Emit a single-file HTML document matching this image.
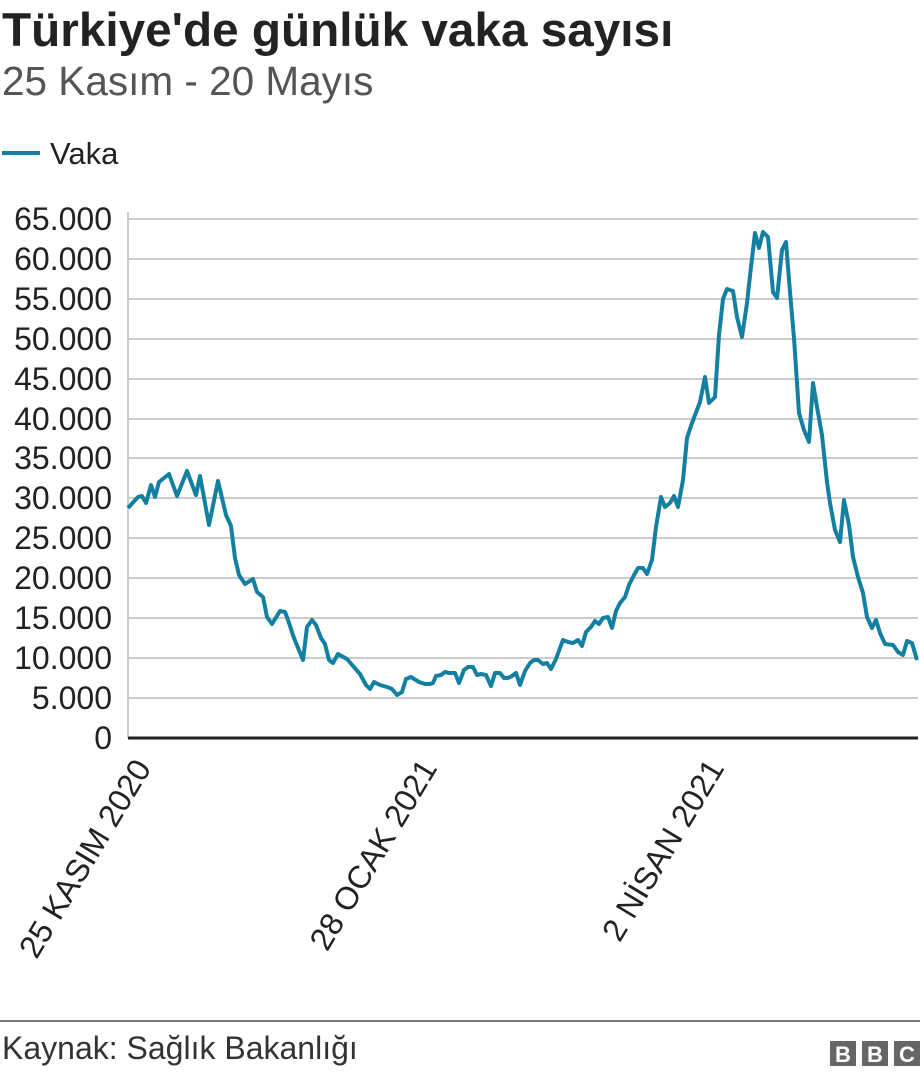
<!DOCTYPE html>
<html><head><meta charset="utf-8"><style>
body{margin:0;background:#fff;width:920px;height:1076px;overflow:hidden;font-family:"Liberation Sans",sans-serif;}
</style></head><body>
<svg width="920" height="1076" xmlns="http://www.w3.org/2000/svg" font-family="Liberation Sans, sans-serif">
<text x="2" y="46" font-size="47.7" font-weight="bold" fill="#222">Türkiye'de günlük vaka sayısı</text>
<text x="2" y="95" font-size="40.5" fill="#555">25 Kasım - 20 Mayıs</text>
<line x1="2" y1="153" x2="40" y2="153" stroke="#1380A1" stroke-width="4"/>
<text x="50" y="164" font-size="31" fill="#222">Vaka</text>
<g stroke="#ccc" stroke-width="2">
<line x1="128" y1="219" x2="918" y2="219"/><line x1="128" y1="259" x2="918" y2="259"/><line x1="128" y1="299" x2="918" y2="299"/><line x1="128" y1="339" x2="918" y2="339"/><line x1="128" y1="379" x2="918" y2="379"/><line x1="128" y1="419" x2="918" y2="419"/><line x1="128" y1="458" x2="918" y2="458"/><line x1="128" y1="498" x2="918" y2="498"/><line x1="128" y1="538" x2="918" y2="538"/><line x1="128" y1="578" x2="918" y2="578"/><line x1="128" y1="618" x2="918" y2="618"/><line x1="128" y1="658" x2="918" y2="658"/><line x1="128" y1="698" x2="918" y2="698"/>
<line x1="128" y1="212" x2="128" y2="738"/>
</g>
<g font-size="32" fill="#222" text-anchor="end">
<text x="112" y="230">65.000</text><text x="112" y="270">60.000</text><text x="112" y="310">55.000</text><text x="112" y="350">50.000</text><text x="112" y="390">45.000</text><text x="112" y="430">40.000</text><text x="112" y="469">35.000</text><text x="112" y="509">30.000</text><text x="112" y="549">25.000</text><text x="112" y="589">20.000</text><text x="112" y="629">15.000</text><text x="112" y="669">10.000</text><text x="112" y="709">5.000</text><text x="112" y="749">0</text>
</g>
<polyline fill="none" stroke="#1380A1" stroke-width="4" stroke-linejoin="round" points="128,508 138,497 142,496 146,503 151,485 155,497 159,482 169,474 177,496 187,471 196,495 200,476 209,525 218,481 226,515 231,526 235,558 239,575 245,584 253,579 257,592 263,597 267,617 272,624 280,611 285,612 288,620 294,638 303,660 307,627 312,620 316,625 321,638 325,644 329,660 333,663 338,654 347,659 353,666 360,674 366,685 370,689 374,682 380,685 387,687 392,689 397,695 402,692 406,679 411,677 419,682 425,684 430,684 433,683 436,676 441,675 445,672 449,673 455,673 459,683 464,670 468,667 473,667 477,675 481,674 486,675 491,686 495,673 500,673 504,678 508,678 512,676 516,673 520,685 525,671 530,663 534,660 538,660 543,664 547,663 551,669 556,659 560,648 563,640 568,642 573,643 578,640 582,646 586,632 591,627 595,621 599,624 603,618 608,617 612,628 616,611 620,603 625,597 629,585 633,577 638,568 643,568 647,574 652,560 656,527 661,497 665,507 670,503 674,496 678,507 683,480 687,438 692,423 700,402 705,377 709,403 715,397 719,335 723,299 727,289 733,291 737,317 742,337 747,303 751,267 755,233 759,248 763,232 768,237 773,292 777,298 782,250 786,242 790,292 794,338 799,413 804,430 809,442 813,383 817,407 822,435 827,482 830,503 835,530 840,542 844,500 849,525 853,557 858,577 863,593 867,617 872,628 876,620 880,633 885,644 893,645 898,652 903,655 907,641 912,643 917,660"/>
<line x1="128" y1="738" x2="918" y2="738" stroke="#222" stroke-width="3"/>
<g font-size="32" fill="#222" text-anchor="end">
<text transform="translate(152,768) rotate(-59)">25 KASIM 2020</text>
<text transform="translate(438,768) rotate(-59)">28 OCAK 2021</text>
<text transform="translate(725,768) rotate(-59)">2 NİSAN 2021</text>
</g>
<line x1="0" y1="1021" x2="920" y2="1021" stroke="#777" stroke-width="2"/>
<text x="2" y="1059" font-size="32" fill="#333">Kaynak: Sağlık Bakanlığı</text>
<g fill="#666"><rect x="830" y="1041" width="26" height="25"/><rect x="862" y="1041" width="26" height="25"/><rect x="894" y="1041" width="26" height="25"/></g>
<g fill="#fff" font-size="22" font-weight="bold" text-anchor="middle"><text x="843" y="1062">B</text><text x="875" y="1062">B</text><text x="907" y="1062">C</text></g>
</svg>
</body></html>
